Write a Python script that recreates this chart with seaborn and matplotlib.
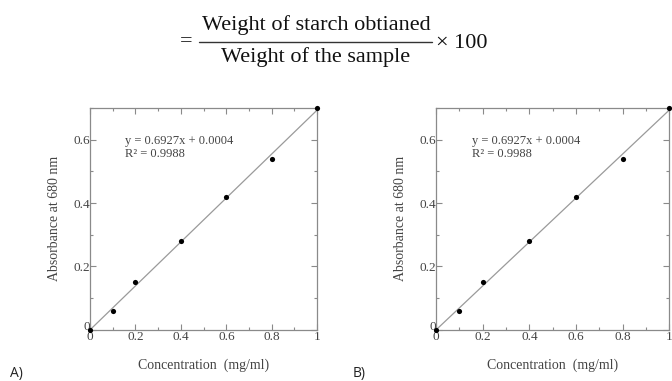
import matplotlib
matplotlib.use("Agg")
import matplotlib.pyplot as plt
import matplotlib.transforms as mtransforms
import seaborn as sns
import numpy as np
import pandas as pd
from matplotlib.ticker import MultipleLocator

sns.set_theme(style="white")

concentration = [0.0, 0.1, 0.2, 0.4, 0.6, 0.8, 1.0]
absorbance = [0.0, 0.06, 0.15, 0.28, 0.42, 0.54, 0.70]
slope = 0.6927
intercept = 0.0004
r2 = 0.9988
x_ticks = [0, 0.2, 0.4, 0.6, 0.8, 1]
x_tick_labels = ["0", "0.2", "0.4", "0.6", "0.8", "1"]
y_ticks = [0, 0.2, 0.4, 0.6]
y_tick_labels = ["0", "0.2", "0.4", "0.6"]
panel_labels = ["A)", "B)"]

df = pd.DataFrame({"x": concentration, "y": absorbance})
fit_x = [min(concentration), max(concentration)]
fit_df = pd.DataFrame({"x": fit_x, "y": [slope * v + intercept for v in fit_x]})

fig = plt.figure(figsize=(6.72, 3.81), dpi=100)

serif = ["Liberation Serif", "DejaVu Serif"]
frame_col = "#8a8a8a"
text_col = "#444444"

positions = [[0.134, 0.134, 0.338, 0.583], [0.649, 0.134, 0.347, 0.583]]
label_x = [0.015, 0.525]

for pos, lab, lx in zip(positions, panel_labels, label_x):
    ax = fig.add_axes(pos)
    sns.lineplot(data=fit_df, x="x", y="y", ax=ax, color="#9a9a9a", lw=0.9)
    sns.scatterplot(data=df, x="x", y="y", ax=ax, color="black", s=14,
                    edgecolor="black", linewidth=0, zorder=5, clip_on=False)
    ax.set_xlim(0, 1)
    ax.set_ylim(0, 0.7)
    ax.set_xticks(x_ticks)
    ax.set_xticklabels(x_tick_labels)
    ax.set_yticks(y_ticks)
    ax.set_yticklabels(y_tick_labels)
    ax.xaxis.set_minor_locator(MultipleLocator(0.1))
    ax.yaxis.set_minor_locator(MultipleLocator(0.1))
    ax.tick_params(which="both", direction="in", top=True, right=True,
                   bottom=True, left=True, color=frame_col, width=0.8)
    ax.tick_params(which="major", length=4, labelsize=9.5, labelcolor=text_col)
    ax.tick_params(axis="y", which="major", pad=0)
    ax.tick_params(axis="x", which="major", pad=1)
    ax.tick_params(which="minor", length=2)
    for t in ax.get_xticklabels() + ax.get_yticklabels():
        t.set_family(serif)
    # nudge the y "0" label up slightly so it sits just above the x "0"
    ylab0 = ax.get_yticklabels()[0]
    ylab0.set_transform(ylab0.get_transform() +
                        mtransforms.ScaledTranslation(0, 3 / 72, fig.dpi_scale_trans))
    for sp in ax.spines.values():
        sp.set_color(frame_col)
        sp.set_linewidth(0.9)
    ax.set_xlabel("Concentration  (mg/ml)", family=serif, fontsize=10,
                  color=text_col, labelpad=11)
    ax.set_ylabel("Absorbance at 680 nm", family=serif, fontsize=10,
                  color=text_col, labelpad=9)
    ax.text(0.154, 0.596, f"y = {slope}x + {intercept}", family=serif,
            fontsize=9, color=text_col, va="center")
    ax.text(0.154, 0.556, f"R\u00b2 = {r2}", family=serif, fontsize=9,
            color=text_col, va="center")
    fig.text(lx, 0.02, lab, fontsize=10, family=["Open Sans", "DejaVu Sans"],
             color="#222222", va="center")

# formula at top
cx = 316 / 672
fs = 16
fig.text(cx, 1 - 25 / 381, "Weight of starch obtianed", ha="center", va="center",
         family=serif, fontsize=fs, color="#111111")
fig.text(cx, 1 - 57 / 381, "Weight of the sample", ha="center", va="center",
         family=serif, fontsize=fs, color="#111111")
fig.add_artist(plt.Line2D([199 / 672, 432 / 672], [1 - 42 / 381, 1 - 42 / 381],
                          color="#333333", lw=1.0))
fig.text(180 / 672, 1 - 42 / 381, "=", ha="left", va="center", family=serif,
         fontsize=fs, color="#111111")
fig.text(436 / 672, 1 - 43 / 381, "× 100", ha="left", va="center", family=serif,
         fontsize=fs, color="#111111")

fig.savefig("out.png", dpi=100)
